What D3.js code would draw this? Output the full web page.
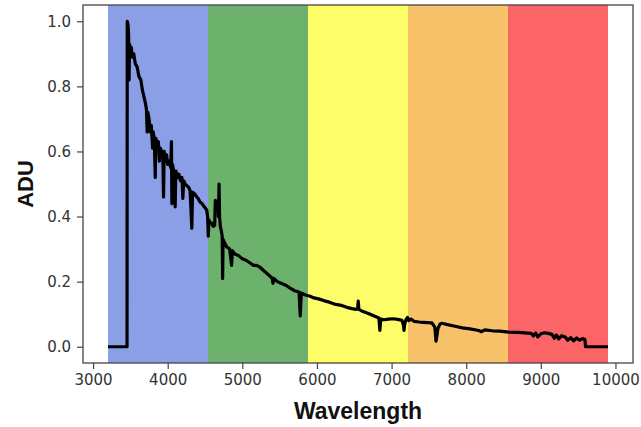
<!DOCTYPE html>
<html>
<head>
<meta charset="utf-8">
<script src="https://cdn.jsdelivr.net/npm/d3@7/dist/d3.min.js"></script>
<style>
  html, body { margin: 0; padding: 0; background: #fff; }
  svg { display: block; }
</style>
</head>
<body>
<svg id="chart" width="641" height="427"></svg>
<script>
// ---- data ----
const bandEdges = [3200, 4540, 5880, 7220, 8560, 9900];
const bandColors = ["#8a9fe6", "#6cb26c", "#fdfd6a", "#f8c26b", "#fc6567"];

const wavelength = [
  3200, 3455, 3458, 3468, 3476, 3482, 3490, 3500, 3512, 3525, 3545, 3565, 3590, 3615, 3640, 3660,
  3680, 3700, 3715, 3725, 3735, 3750, 3765, 3780, 3798, 3806, 3820, 3833, 3842, 3860, 3875, 3889,
  3900, 3920, 3935, 3944, 3953, 3970, 3985, 4000, 4020, 4040, 4050, 4056, 4064, 4080, 4100, 4110,
  4130, 4150, 4170, 4190, 4203, 4214, 4235, 4256, 4280, 4300, 4323, 4333, 4360, 4390, 4410, 4433,
  4460, 4490, 4523, 4535, 4544, 4553, 4570, 4590, 4610, 4630, 4638, 4655, 4672, 4680, 4688, 4695,
  4705, 4715, 4730, 4736, 4742, 4760, 4789, 4830, 4856, 4866, 4900, 4950, 5000, 5056, 5100, 5150,
  5190, 5233, 5280, 5330, 5380, 5400, 5411, 5422, 5470, 5520, 5589, 5640, 5700, 5760, 5776, 5790,
  5856, 5900, 5960, 6020, 6100, 6167, 6250, 6330, 6400, 6470, 6523, 6545, 6553, 6562, 6600, 6680,
  6760, 6830, 6843, 6855, 6900, 6960, 7020, 7080, 7140, 7160, 7167, 7175, 7190, 7215, 7230, 7260,
  7300, 7367, 7420, 7480, 7540, 7580, 7595, 7605, 7620, 7650, 7673, 7750, 7850, 7950, 8050, 8167,
  8200, 8250, 8350, 8450, 8567, 8700, 8873, 8900, 8930, 8960, 9000, 9050, 9100, 9150, 9180, 9210,
  9240, 9280, 9327, 9360, 9400, 9440, 9480, 9520, 9560, 9590, 9600, 9900
];
const flux = [
  0.000, 0.000, 1.000, 0.990, 0.960, 0.820, 0.930, 0.900, 0.920, 0.890, 0.900, 0.870, 0.860, 0.830, 0.820, 0.790,
  0.770, 0.750, 0.730, 0.660, 0.720, 0.700, 0.660, 0.680, 0.610, 0.660, 0.640, 0.520, 0.640, 0.620, 0.630, 0.570,
  0.610, 0.600, 0.580, 0.460, 0.600, 0.570, 0.590, 0.560, 0.570, 0.550, 0.630, 0.440, 0.560, 0.540, 0.430, 0.540,
  0.520, 0.530, 0.510, 0.520, 0.456, 0.510, 0.500, 0.495, 0.490, 0.480, 0.364, 0.475, 0.470, 0.460, 0.455, 0.445,
  0.440, 0.430, 0.420, 0.400, 0.340, 0.390, 0.380, 0.380, 0.370, 0.373, 0.450, 0.430, 0.440, 0.400, 0.500, 0.400,
  0.370, 0.360, 0.340, 0.210, 0.330, 0.320, 0.307, 0.300, 0.250, 0.295, 0.285, 0.280, 0.270, 0.265, 0.258, 0.250,
  0.250, 0.245, 0.235, 0.225, 0.215, 0.210, 0.195, 0.210, 0.200, 0.195, 0.188, 0.180, 0.172, 0.168, 0.095, 0.165,
  0.158, 0.156, 0.150, 0.147, 0.141, 0.137, 0.130, 0.127, 0.121, 0.117, 0.115, 0.116, 0.140, 0.115, 0.110, 0.103,
  0.095, 0.088, 0.050, 0.085, 0.083, 0.085, 0.086, 0.084, 0.081, 0.065, 0.050, 0.068, 0.082, 0.090, 0.080, 0.085,
  0.078, 0.076, 0.075, 0.074, 0.073, 0.060, 0.017, 0.030, 0.055, 0.070, 0.072, 0.068, 0.063, 0.058, 0.055, 0.050,
  0.046, 0.052, 0.049, 0.048, 0.045, 0.044, 0.041, 0.033, 0.042, 0.030, 0.040, 0.043, 0.041, 0.038, 0.026, 0.036,
  0.024, 0.034, 0.030, 0.020, 0.028, 0.018, 0.027, 0.020, 0.025, 0.022, 0.000, 0.000
];

const xTicks = [3000, 4000, 5000, 6000, 7000, 8000, 9000, 10000];
const yTicks = [0.0, 0.2, 0.4, 0.6, 0.8, 1.0];
const xLabel = "Wavelength";
const yLabel = "ADU";

// ---- layout ----
const svg = d3.select("#chart");
const mLeft = 83, mRight = 633, mTop = 5, mBottom = 363;

const x = d3.scaleLinear().domain([2865, 10235]).range([mLeft, mRight]);
const y = d3.scaleLinear().domain([-0.05, 1.05]).range([mBottom, mTop]);

// coloured bands
const bands = d3.range(bandColors.length).map(i => ({ x0: bandEdges[i], x1: bandEdges[i + 1], c: bandColors[i] }));
svg.append("g").selectAll("rect").data(bands).join("rect")
  .attr("x", d => x(d.x0))
  .attr("width", d => x(d.x1) - x(d.x0))
  .attr("y", mTop)
  .attr("height", mBottom - mTop)
  .attr("fill", d => d.c);

// spectrum line
const pts = wavelength.map((w, i) => [w, flux[i]]);
svg.append("path")
  .datum(pts)
  .attr("fill", "none")
  .attr("stroke", "#000")
  .attr("stroke-width", 3.2)
  .attr("stroke-linejoin", "round")
  .attr("d", d3.line().x(d => x(d[0])).y(d => y(d[1])));

// axes
const fontTick = "DejaVu Sans, sans-serif";
const xAxis = svg.append("g")
  .attr("transform", `translate(0,${mBottom})`)
  .call(d3.axisBottom(x).tickValues(xTicks).tickFormat(d3.format("d")).tickSizeOuter(0).tickSize(6).tickPadding(5));
const yAxis = svg.append("g")
  .attr("transform", `translate(${mLeft},0)`)
  .call(d3.axisLeft(y).tickValues(yTicks).tickFormat(d3.format(".1f")).tickSizeOuter(0).tickSize(6).tickPadding(6));

[xAxis, yAxis].forEach(g => {
  g.select(".domain").remove();
  g.selectAll(".tick line").attr("stroke", "#444").attr("stroke-width", 1.2);
  g.selectAll(".tick text").attr("fill", "#333").style("font-family", fontTick).style("font-size", "15px");
});

// frame
svg.append("rect")
  .attr("x", mLeft).attr("y", mTop)
  .attr("width", mRight - mLeft).attr("height", mBottom - mTop)
  .attr("fill", "none").attr("stroke", "#444").attr("stroke-width", 1.3);

// labels
svg.append("text")
  .attr("x", (mLeft + mRight) / 2).attr("y", 419)
  .attr("text-anchor", "middle")
  .style("font-family", "Liberation Sans, Arial, sans-serif")
  .style("font-weight", "bold")
  .style("font-size", "23px")
  .attr("fill", "#111")
  .text(xLabel);

svg.append("text")
  .attr("transform", `translate(33,${(mTop + mBottom) / 2}) rotate(-90)`)
  .attr("text-anchor", "middle")
  .style("font-family", "Liberation Sans, Arial, sans-serif")
  .style("font-weight", "bold")
  .style("font-size", "22px")
  .attr("fill", "#111")
  .text(yLabel);
</script>
</body>
</html>
